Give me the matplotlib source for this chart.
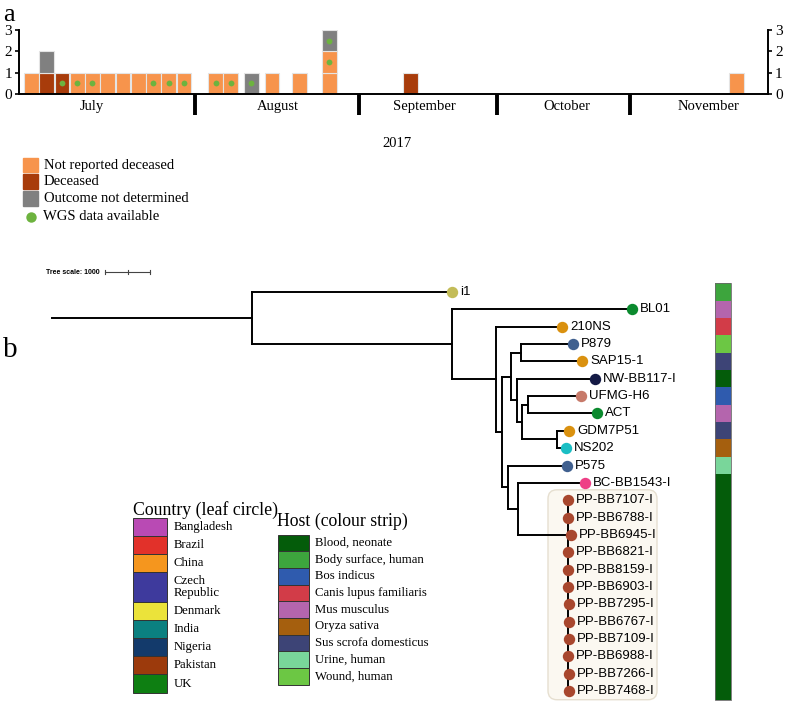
import numpy as np
import matplotlib.pyplot as plt
from matplotlib.patches import Rectangle, FancyBboxPatch
from matplotlib.collections import LineCollection

SERIF = ['Liberation Serif', 'DejaVu Serif']
SANS = ['Liberation Sans', 'DejaVu Sans']

# ---------------- panel a : cases over time ----------------
month_names = ['July', 'August', 'September', 'October', 'November']
month_label_x = [4.8, 17.0, 26.6, 35.9, 45.2]
month_edges = [11.54, 22.3, 31.34, 40.07]
year_label = '2017'
year_x = 24.8

# position of each case column on the timeline, outcome stack (bottom->top)
# N = not reported deceased, D = deceased, U = outcome not determined
case_x = [0.33, 1.33, 2.33, 3.33, 4.33, 5.33, 6.33, 7.33, 8.33, 9.33, 10.33,
          12.4, 13.4, 14.75, 16.1, 17.9, 19.85, 25.2, 46.55]
case_stack = ['N', 'DU', 'D', 'N', 'N', 'N', 'N', 'N', 'N', 'N', 'N',
              'N', 'N', 'U', 'N', 'N', 'NNU', 'D', 'N']
case_wgs = ['0', '00', '1', '1', '1', '0', '0', '0', '1', '1', '1',
            '1', '1', '1', '0', '0', '011', '0', '0']

outcome_labels = {'N': 'Not reported deceased', 'D': 'Deceased',
                  'U': 'Outcome not determined'}
outcome_colors = {'N': '#F7944C', 'D': '#A83C0B', 'U': '#808080'}
wgs_color = '#6DB33F'

# ---------------- panel b : tree ----------------
# (name, branch length in tree units, children[, attach child index])
pp_names = ['PP-BB7107-I', 'PP-BB6788-I', 'PP-BB6945-I', 'PP-BB6821-I',
            'PP-BB8159-I', 'PP-BB6903-I', 'PP-BB7295-I', 'PP-BB6767-I',
            'PP-BB7109-I', 'PP-BB6988-I', 'PP-BB7266-I', 'PP-BB7468-I']
pp_len = [0, 0, 60, 0, 0, 0, 20, 30, 30, 0, 30, 30]

tree = ('', 4444, [
    ('i1', 4444, []),
    ('', 4444, [
        ('BL01', 4000, []),
        ('', 978, [
            ('210NS', 1467, []),
            ('', 133, [
                ('', 200, [
                    ('', 222, [('P879', 1156, []), ('SAP15-1', 1356, [])]),
                    ('', 133, [
                        ('NW-BB117-I', 1733, []),
                        ('', 111, [
                            ('', 133, [('UFMG-H6', 1178, []), ('ACT', 1533, [])]),
                            ('', 778, [('GDM7P51', 267, []), ('NS202', 200, [])]),
                        ]),
                    ]),
                ]),
                ('', 133, [
                    ('P575', 1311, []),
                    ('', 222, [
                        ('BC-BB1543-I', 1489, []),
                        ('', 1111, [(n, l, []) for n, l in zip(pp_names, pp_len)], 2),
                    ]),
                ]),
            ]),
        ]),
    ]),
])

leaf_colors = {'i1': '#C3BC58', 'BL01': '#0B8A2E', '210NS': '#DA910F',
               'P879': '#40608F', 'SAP15-1': '#DA910F', 'NW-BB117-I': '#141A45',
               'UFMG-H6': '#C77A6A', 'ACT': '#0B8A2E', 'GDM7P51': '#DA910F',
               'NS202': '#1BBEC4', 'P575': '#40608F', 'BC-BB1543-I': '#EE3F86'}
for n in pp_names:
    leaf_colors[n] = '#A8472E'

host_names = ['Blood, neonate', 'Body surface, human', 'Bos indicus',
              'Canis lupus familiaris', 'Mus musculus', 'Oryza sativa',
              'Sus scrofa domesticus', 'Urine, human', 'Wound, human']
host_colors = ['#045C0A', '#3DA53D', '#2F5BAE', '#D23C48', '#B465AD',
               '#A55F0E', '#3D4476', '#79D69A', '#6CC744']
leaf_hosts = ['Body surface, human', 'Mus musculus', 'Canis lupus familiaris',
              'Wound, human', 'Sus scrofa domesticus', 'Blood, neonate',
              'Bos indicus', 'Mus musculus', 'Sus scrofa domesticus',
              'Oryza sativa', 'Urine, human'] + ['Blood, neonate'] * 13

country_names = ['Bangladesh', 'Brazil', 'China', 'Czech\nRepublic', 'Denmark',
                 'India', 'Nigeria', 'Pakistan', 'UK']
country_colors = ['#B94AB4', '#E2312A', '#F5961E', '#3E3A9D', '#EBE33A',
                  '#0B8080', '#133A6B', '#9C3A0C', '#0E7F12']

tree_scale = 1000

W, H = 787, 702
fig = plt.figure(figsize=(W / 100, H / 100), dpi=100)

# overlay in pixel coordinates for legends / panel letters
ov = fig.add_axes([0, 0, 1, 1])
ov.set_xlim(0, W)
ov.set_ylim(H, 0)
ov.axis('off')

# ---- panel a ----
ax = fig.add_axes([19 / W, 1 - 94 / H, 749 / W, 64 / H])
for x, st, wg in zip(case_x, case_stack, case_wgs):
    for k, (o, d) in enumerate(zip(st, wg)):
        ax.bar(x, 1, bottom=k, width=0.97, align='edge', color=outcome_colors[o],
               edgecolor='#e4e4e4', linewidth=0.8, zorder=2)
        if d == '1':
            ax.plot(x + 0.485, k + 0.5, 'o', color=wgs_color, ms=4.2, mec='none', zorder=3)
ax.set_xlim(0, 49.11)
ax.set_ylim(0, 3)
ax.set_yticks([0, 1, 2, 3])
ax.set_xticks([])
ax.spines['top'].set_visible(False)
for s in ['left', 'right', 'bottom']:
    ax.spines[s].set_linewidth(1.4)
ax.tick_params(axis='y', direction='out', length=3, width=1.2, pad=2,
               labelsize=11, right=True, labelright=True)
for lab in ax.get_yticklabels():
    lab.set_family(SERIF)
ax.vlines(month_edges, -1.0, 0, color='black', lw=2.8, clip_on=False)
for name, mx in zip(month_names, month_label_x):
    ax.text(mx, -0.6, name, ha='center', va='center', fontsize=10.5, family=SERIF)
ax.text(year_x, -2.3, year_label, ha='center', va='center', fontsize=10.5, family=SERIF)

# panel a legend
for i, o in enumerate(['N', 'D', 'U']):
    top = 157.5 + i * 16.8
    ov.add_patch(Rectangle((23, top), 15, 14.5, color=outcome_colors[o]))
    ov.text(44, top + 7.5, outcome_labels[o], va='center', fontsize=10.5, family=SERIF)
ov.plot(31, 217, 'o', color=wgs_color, ms=7.5, mec='none')
ov.text(43, 217, 'WGS data available', va='center', fontsize=10.5, family=SERIF)

ov.text(3, 4, 'a', ha='left', va='top', fontsize=19, family=SERIF)
ov.text(3, 350, 'b', ha='left', va='center', fontsize=21, family=SERIF)

# ---- panel b ----
K = 1000 / 45.0           # tree units per pixel
Y0, DY = 292.0, 17.35     # leaf row geometry in pixels
tx = fig.add_axes([0, 0, 1, (H - 255) / H])
tx.set_xlim(-52 * K, (W - 52) * K)
tx.set_ylim((702 - Y0) / DY, (255 - Y0) / DY)
tx.axis('off')

segs = []
tips = []
counter = [0]


def walk(node, x0):
    name, bl, kids = node[:3]
    x = x0 + bl
    if not kids:
        y = counter[0]
        counter[0] += 1
        tips.append((name, x, y))
        return x, y
    ys = []
    for c in kids:
        cx, cy = walk(c, x)
        segs.append([(x, cy), (cx, cy)])
        ys.append(cy)
    segs.append([(x, ys[0]), (x, ys[-1])])
    if len(node) > 3:
        return x, ys[node[3]]
    return x, (ys[0] + ys[-1]) / 2


rx, ry = walk(tree, 0)
segs.append([(0, ry), (rx, ry)])

# highlighted clade box
pp_tips = [t for t in tips if t[0] in pp_names]
bx0, bx1 = (548 - 52) * K, (657 - 52) * K
by0, by1 = pp_tips[0][2] - 0.6, pp_tips[-1][2] + 0.5
tx.add_patch(FancyBboxPatch((bx0, by0), bx1 - bx0, by1 - by0,
                            boxstyle='round,pad=0,rounding_size=%f' % (9 * K),
                            mutation_aspect=(1 / DY) / K,
                            fc='#FBF8F1', ec='#E6DFD0', lw=1.0, zorder=1))

tx.add_collection(LineCollection(segs, colors='black', linewidths=1.4,
                                 capstyle='projecting', zorder=2))
for name, x, y in tips:
    tx.plot(x, y, 'o', color=leaf_colors[name], ms=8.2, mec='none', zorder=3)
    tx.annotate(name, (x, y), xytext=(5.8, 0), textcoords='offset points',
                ha='left', va='center', fontsize=9.5, family=SERIF if False else SANS,
                zorder=4)

# colour strip
strip_idx = np.arange(len(leaf_hosts))
strip_cols = [host_colors[host_names.index(h)] for h in leaf_hosts]
tx.barh(strip_idx, 16 * K, left=(715 - 52) * K, height=1.0, color=strip_cols,
        edgecolor='none', zorder=2)
tx.add_patch(Rectangle(((715 - 52) * K, -0.5), 16 * K, len(leaf_hosts),
                       fill=False, ec='#6a6a6a', lw=0.6, zorder=3))

# tree scale bar
sy = (272 - Y0) / DY
sx0, sx1 = (105 - 52) * K, (105 - 52) * K + tree_scale
tx.plot([sx0, sx1], [sy, sy], color='#444444', lw=0.8)
for xx in [sx0, (sx0 + sx1) / 2, sx1]:
    tx.plot([xx, xx], [sy - 0.12, sy + 0.12], color='#444444', lw=0.8)
tx.text(sx0 - 5 * K, sy, 'Tree scale: %d' % tree_scale, ha='right', va='center',
        fontsize=5, fontweight='bold', family=SANS)

# country legend
ov.text(133, 510, 'Country (leaf circle)', ha='left', va='center', fontsize=12.8, family=SERIF)
top = 517.5
for name, col in zip(country_names, country_colors):
    h = 29.5 if '\n' in name else 18.2
    ov.add_patch(Rectangle((133, top), 34, h, fc=col, ec='#333333', lw=0.7))
    ov.text(174, top + h / 2, name, ha='left', va='center', fontsize=9.2,
            family=SERIF, linespacing=1.05)
    top += h

# host legend
ov.text(277, 521, 'Host (colour strip)', ha='left', va='center', fontsize=12.8, family=SERIF)
top = 534.5
for name, col in zip(host_names, host_colors):
    ov.add_patch(Rectangle((278, top), 31, 16.7, fc=col, ec='#333333', lw=0.7))
    ov.text(315, top + 8.4, name, ha='left', va='center', fontsize=9.2, family=SERIF)
    top += 16.7

fig.savefig('out.png', dpi=100)
